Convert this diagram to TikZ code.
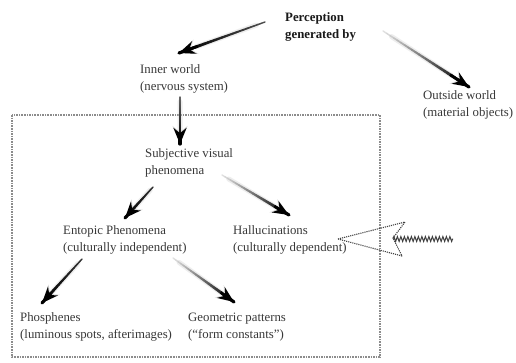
\documentclass[tikz,border=0pt]{standalone}
\usepackage{fontspec}
\setmainfont{Liberation Serif}
\usetikzlibrary{arrows.meta,calc,decorations.pathmorphing}

% gradient arrow: #1 start coordinate, #2 end coordinate, #3 start darkness (percent black)
\newcommand\gradarr[3]{%
  % soft shadow
  \begin{scope}[shift={(2.5,3)}]
    \draw[line width=5pt, black!20, opacity=.35, line cap=round] ($(#1)!0.1!(#2)$) -- ($(#1)!0.8!(#2)$);
    \draw[line width=2.5pt, black!30, opacity=.45, -{Stealth[length=18pt,width=15pt]}] ($(#1)!0.72!(#2)$) -- (#2);
  \end{scope}
  \foreach \i in {0,...,23}{%
    \pgfmathsetmacro\pa{\i/24}%
    \pgfmathsetmacro\pb{(\i+1)/24}%
    \pgfmathsetmacro\pc{#3+(100-#3)*\i/23}%
    \pgfmathsetmacro\pw{1.4+1.8*\i/23}%
    \draw[line width=\pw pt, color=black!\pc, line cap=round] ($(#1)!\pa!(#2)$) -- ($(#1)!\pb!(#2)$);
  }%
  \draw[line width=2.8pt, black, -{Stealth[length=16pt,width=13pt]}] ($(#1)!0.78!(#2)$) -- (#2);
}

\tikzset{
  txt/.style={font=\fontsize{12.8}{17}\selectfont, text=black!78, align=left, inner sep=0pt, anchor=west},
  boldtxt/.style={txt, font=\fontsize{12.8}{17}\selectfont\bfseries, text=black!90},
  framebox/.style={draw=black!45, line width=1.6pt, densely dotted},
}

\begin{document}
\begin{tikzpicture}[x=1pt,y=-1pt]
\useasboundingbox (0,0) rectangle (516,362);
\fill[white] (0,0) rectangle (516,362);

% dotted frame
\draw[framebox] (12,115) rectangle (380,357);

% text nodes
\node[boldtxt] (perc) at (285,27) {Perception\\generated by};
\node[txt] (inner) at (140,79) {Inner world\\(nervous system)};
\node[txt] (outside) at (423,105) {Outside world\\(material objects)};
\node[txt] (subj) at (145,163) {Subjective visual\\phenomena};
\node[txt] (ento) at (63,240) {Entopic Phenomena\\(culturally independent)};
\node[txt] (hall) at (233,240) {Hallucinations\\(culturally dependent)};
\node[txt] (phos) at (20,327) {Phosphenes\\(luminous spots, afterimages)};
\node[txt] (geom) at (188,327) {Geometric patterns\\(``form constants'')};

% arrow end points
\coordinate (a1s) at (265,22);  \coordinate (a1e) at (179,53);
\coordinate (a2s) at (383,31);  \coordinate (a2e) at (469,87);
\coordinate (a3s) at (180,97);  \coordinate (a3e) at (180,144);
\coordinate (a4s) at (153,187); \coordinate (a4e) at (125,218);
\coordinate (a5s) at (222,175); \coordinate (a5e) at (289,215);
\coordinate (a6s) at (82,259);  \coordinate (a6e) at (42,303);
\coordinate (a7s) at (173,258); \coordinate (a7e) at (234,302);

\gradarr{a1s}{a1e}{70}
\gradarr{a2s}{a2e}{12}
\gradarr{a3s}{a3e}{60}
\gradarr{a4s}{a4e}{80}
\gradarr{a5s}{a5e}{12}
\gradarr{a6s}{a6e}{80}
\gradarr{a7s}{a7e}{12}

% hollow dotted arrow pointing at hallucinations
\coordinate (htip) at (338,239);
\draw[black!75, line width=1.1pt, densely dotted, line join=round]
  (htip) -- (405,222) -- (393,238) -- (402,256) -- cycle;
\draw[black!75, line width=1pt, decorate, decoration={zigzag, segment length=3.5pt, amplitude=2.5pt}]
  (393,239) -- (453,239);
\end{tikzpicture}
\end{document}
